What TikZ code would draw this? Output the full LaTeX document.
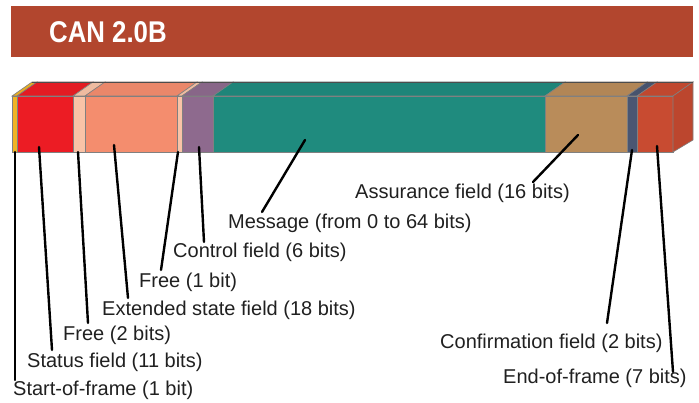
\documentclass[tikz,border=0pt]{standalone}
\usepackage{fontspec}
\setmainfont{Liberation Sans}
\usetikzlibrary{positioning}

\definecolor{headred}{HTML}{B2462E}
\definecolor{sofcol}{HTML}{F0B323}
\definecolor{statcol}{HTML}{EC1C24}
\definecolor{freecol}{HTML}{F9C3A7}
\definecolor{extcol}{HTML}{F48D6E}
\definecolor{ctrlcol}{HTML}{8E6A8E}
\definecolor{msgcol}{HTML}{1F8B7E}
\definecolor{asscol}{HTML}{B98C5A}
\definecolor{confcol}{HTML}{4A5672}
\definecolor{eofcol}{HTML}{C84B31}
\definecolor{labelgray}{HTML}{202020}

\tikzset{
  field/.style = {draw=black!50, line width=0.6pt},
  leader/.style = {draw=black, line width=2.4pt, line cap=round},
  lbl/.style = {anchor=west, inner sep=0pt, text=labelgray,
    font=\fontsize{20}{22}\selectfont}
}

\begin{document}
\begin{tikzpicture}[x=1pt, y=-1pt]
      \useasboundingbox (0,0) rectangle (699,403);

      % header
      \fill[headred] (11,6) rectangle (693,57);
      \node[anchor=west, inner sep=0pt, text=white, font=\fontsize{30}{32}\selectfont\bfseries]
        (title) at (49,32) {\scalebox{0.86}[1]{CAN 2.0B}};

      % the frame as a bar of blocks
      \foreach \a/\b/\c in {12/17/sofcol, 17/73/statcol, 73/85/freecol, 85/177/extcol,
          177/182/freecol, 182/213/ctrlcol, 213/545/msgcol, 545/627/asscol,
          627/637/confcol, 637/673/eofcol}
        {
          \filldraw[field, fill=\c!96!black] (\a,96) -- (\a+20,82) -- (\b+20,82) -- (\b,96) -- cycle;
          \filldraw[field, fill=\c] (\a,96) rectangle (\b,152);
        }
      \filldraw[field, fill=eofcol!94!black] (673,96) -- (693,82) -- (693,140) -- (673,152) -- cycle;
      \draw[black!70, line width=0.8pt] (32,82) -- (693,82);

      % labels
      \node[lbl] (lSof) at (13,390) {Start-of-frame (1 bit)};
      \node[lbl] (lStatus) at (27,362) {Status field (11 bits)};
      \node[lbl] (lFreeA) at (63,335) {Free (2 bits)};
      \node[lbl] (lExt) at (102,310) {Extended state field (18 bits)};
      \node[lbl] (lFreeB) at (139,282) {Free (1 bit)};
      \node[lbl] (lCtrl) at (173,252) {Control field (6 bits)};
      \node[lbl] (lMsg) at (228,223) {Message (from 0 to 64 bits)};
      \node[lbl] (lAss) at (355,193) {Assurance field (16 bits)};
      \node[lbl] (lConf) at (440,343) {Confirmation field (2 bits)};
      \node[lbl] (lEof) at (503,378) {End-of-frame (7 bits)};

      % leader lines
      \coordinate (tSof) at (15,152);    \coordinate (bSof) at (15,380);
      \coordinate (tStatus) at (39,147); \coordinate (bStatus) at (52,350);
      \coordinate (tFreeA) at (78,152);  \coordinate (bFreeA) at (88,323);
      \coordinate (tExt) at (114,145);   \coordinate (bExt) at (128,298);
      \coordinate (tFreeB) at (178,152); \coordinate (bFreeB) at (161,270);
      \coordinate (tCtrl) at (199,147);  \coordinate (bCtrl) at (204,242);
      \coordinate (tMsg) at (305,140);   \coordinate (bMsg) at (262,212);
      \coordinate (tAss) at (578,135);   \coordinate (bAss) at (533,182);
      \coordinate (tConf) at (632,150);  \coordinate (bConf) at (607,323);
      \coordinate (tEof) at (657,146);   \coordinate (bEof) at (673,372);

      \foreach \f in {Sof, Status, FreeA, Ext, FreeB, Ctrl, Msg, Ass, Conf, Eof}
        \draw[leader] (t\f) -- (b\f);

    \end{tikzpicture}
\end{document}
